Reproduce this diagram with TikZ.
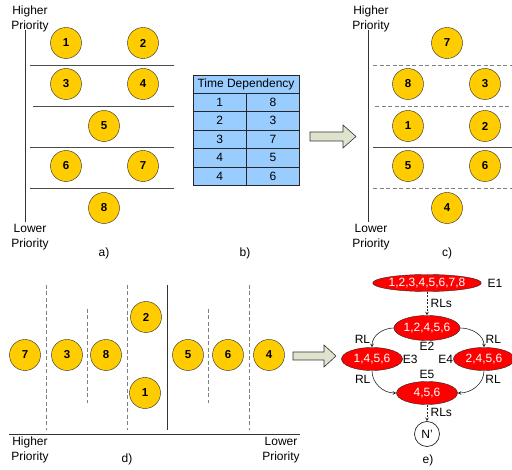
\documentclass[tikz,border=0pt]{standalone}
\usepackage{fontspec}
\setmainfont{Liberation Sans}
\usetikzlibrary{arrows,shapes.geometric,positioning}
\definecolor{jobfill}{RGB}{255,204,0}
\definecolor{tabfill}{RGB}{153,204,255}
\definecolor{bigarrow}{RGB}{221,227,204}

\begin{document}
\begin{tikzpicture}[x=1pt,y=-1pt,font=\fontsize{12}{15.5}\selectfont,
    job/.style={circle,draw=black!85,fill=jobfill,minimum size=31pt,inner sep=0pt,font=\fontsize{11.5}{13}\selectfont\bfseries},
    cell/.style={draw=black!85,fill=tabfill,minimum height=18.4pt,minimum width=53.3pt,inner sep=0pt},
    set/.style={ellipse,draw=black!85,fill=red,text=white,minimum width=61pt,minimum height=23pt,inner sep=0pt},
    solidsep/.style={black!70,line width=0.8pt},
    dashsep/.style={gray,line width=0.7pt,dash pattern=on 4pt off 2.5pt},
    axis/.style={black!80,line width=0.8pt},
    fat/.style={draw=black!80,fill=bigarrow,line width=0.6pt},
    lbl/.style={align=center,inner sep=0pt}]
\useasboundingbox (0,0) rectangle (512,470);

% a)
\draw[axis] (25,30) -- (25,222);
\node[lbl] (ahi) at (30,19) {Higher\\Priority};
\node[lbl] (alo) at (30,237) {Lower\\Priority};
\draw[solidsep] (30,65) -- (174,65);
\draw[solidsep] (33,106) -- (174,106);
\draw[solidsep] (30,147) -- (174,147);
\draw[solidsep] (30,188) -- (174,188);
\node[job] (a1) at (66,43) {1};
\node[job] (a2) at (143,43) {2};
\node[job] (a3) at (66,84) {3};
\node[job] (a4) at (143,84) {4};
\node[job] (a5) at (104,126) {5};
\node[job] (a6) at (66,166) {6};
\node[job] (a7) at (143,166) {7};
\node[job] (a8) at (104,208) {8};
\node (alab) at (104,253) {a)};

% b)
\node[cell,minimum width=106.6pt] (tdh) at (246,84) {Time Dependency};
\foreach \u/\v [count=\i] in {1/8,2/3,3/7,4/5,4/6}
  {
    \node[cell] (tdl\i) at (219.7,{84+18.4*\i}) {\u};
    \node[cell] (tdr\i) at (273,{84+18.4*\i}) {\v};
  }
\node (blab) at (245,253) {b)};

\draw[fat] (310,132) -- (343,132) -- (343,125) -- (356,136.5) -- (343,148) -- (343,141) -- (310,141) -- cycle;

% c)
\draw[axis] (368,30) -- (368,222);
\node[lbl] (chi) at (371,19) {Higher\\Priority};
\node[lbl] (clo) at (371,237) {Lower\\Priority};
\draw[dashsep] (373,65) -- (512,65);
\draw[dashsep] (375,106) -- (512,106);
\draw[solidsep] (373,147) -- (512,147);
\draw[dashsep] (373,188) -- (512,188);
\node[job] (c7) at (447,43) {7};
\node[job] (c8) at (408,84) {8};
\node[job] (c3) at (485,84) {3};
\node[job] (c1) at (408,126) {1};
\node[job] (c2) at (485,126) {2};
\node[job] (c5) at (408,166) {5};
\node[job] (c6) at (485,166) {6};
\node[job] (c4) at (447,208) {4};
\node (clab) at (447,253) {c)};

% d)
\draw[dashsep] (46,285) -- (46,430);
\draw[dashsep] (87,309) -- (87,403);
\draw[dashsep] (127,285) -- (127,430);
\draw[axis] (167,285) -- (167,430);
\draw[dashsep] (208,309) -- (208,403);
\draw[dashsep] (249,285) -- (249,430);
\draw[axis] (9,434) -- (300,434);
\node[job] (d7) at (25,355) {7};
\node[job] (d3) at (67,355) {3};
\node[job] (d8) at (106,355) {8};
\node[job] (d2) at (146,317) {2};
\node[job] (d1) at (145,393) {1};
\node[job] (d5) at (188,355) {5};
\node[job] (d6) at (228,355) {6};
\node[job] (d4) at (269,355) {4};
\node[lbl] (dhi) at (30,450) {Higher\\Priority};
\node[lbl] (dlo) at (281,450) {Lower\\Priority};
\node (dlab) at (127,459) {d)};

\draw[fat] (293,352) -- (324,352) -- (324,345) -- (336,356) -- (324,367) -- (324,360) -- (293,360) -- cycle;

% e)
\node[set,minimum width=92pt,minimum height=17pt] (e1) at (427,283) {1,2,3,4,5,6,7,8};
\node[set,minimum height=25pt] (e2) at (427,328) {1,2,4,5,6};
\node[set] (e3) at (372,359) {1,4,5,6};
\node[set] (e4) at (484,359) {2,4,5,6};
\node[set] (e5) at (427,393) {4,5,6};
\node[circle,draw=black!85,line width=0.7pt,fill=white,minimum size=25pt,inner sep=0pt] (np) at (427,434) {N’};
\node[right=6pt of e1,inner sep=0pt] {E1};
\node[below=1pt of e2,inner sep=0pt] {E2};
\node[right=0pt of e3,inner sep=0pt] {E3};
\node[left=0pt of e4,inner sep=0pt] {E4};
\node[above=2pt of e5,inner sep=0pt] {E5};
\path[->,>=stealth,black!85,line width=0.6pt]
    (e2) edge [out=180,in=90] node[near end,left,black] {RL} (e3)
    (e2) edge [out=0,in=90] node[near end,right,black] {RL} (e4)
    (e3) edge [out=-90,in=180] node[near start,left,black] {RL} (e5)
    (e4) edge [out=-90,in=0] node[near start,right,black] {RL} (e5);
\path[->,>=stealth,black!85,line width=0.6pt,dash pattern=on 2pt off 1.5pt]
    (e1) edge node[right,black] {RLs} (e2)
    (e5) edge node[right,black] {RLs} (np);
\node (elab) at (428,460) {e)};
\end{tikzpicture}
\end{document}
